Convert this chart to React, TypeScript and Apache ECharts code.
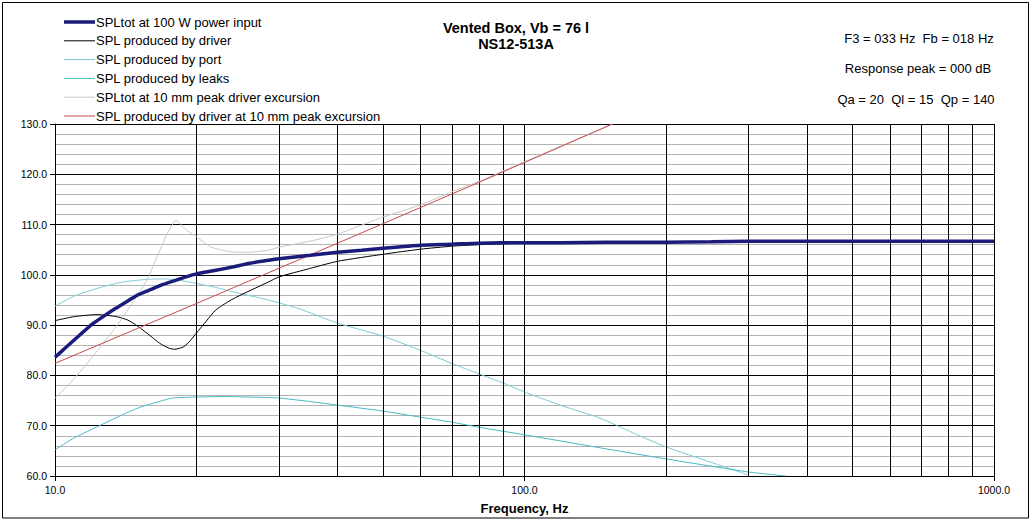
import React, { useEffect, useRef } from "react";
import * as echarts from "echarts";

const FONT = "Liberation Sans, Arial, Helvetica, sans-serif";

const NAMES = [
  "SPLtot at 100 W power input",
  "SPL produced by driver",
  "SPL produced by port",
  "SPL produced by leaks",
  "SPLtot at 10 mm peak driver excursion",
  "SPL produced by driver at 10 mm peak excursion",
];

// Y ticks (dB) and X ticks (Hz)
const Y_MIN = 60;
const Y_MAX = 130;
const Y_STEP = 10;
const X_MIN = 10;
const X_MAX = 1000;
const X_GRID = [20, 30, 40, 50, 60, 70, 80, 90, 200, 300, 400, 500, 600, 700, 800, 900];

// SPLtot at 100 W power input
const TOT_F = [10, 10.5, 11, 11.5, 12, 12.8, 13.5, 14, 15, 16, 17, 18.2, 19, 20, 22, 24, 26, 28.5, 30, 35, 40, 45, 50, 60, 70, 80, 100, 120, 150, 200, 250, 300, 400, 500, 700, 1000];
const TOT_DB = [83.6, 85.4, 87.1, 88.7, 90.2, 92.0, 93.4, 94.3, 96.0, 97.1, 98.1, 99.0, 99.6, 100.2, 100.9, 101.6, 102.3, 102.9, 103.2, 103.9, 104.5, 104.9, 105.3, 105.9, 106.1, 106.3, 106.4, 106.4, 106.5, 106.5, 106.6, 106.7, 106.7, 106.7, 106.7, 106.7];

// SPL produced by driver
const DRV_F = [10, 11, 12.3, 13.5, 14.3, 15, 16, 16.7, 17.5, 18, 18.8, 19.4, 20, 21, 22, 23.5, 25, 28.5, 30, 35, 40, 50, 60, 70, 80, 100, 150, 300, 1000];
const DRV_DB = [90.9, 91.7, 92.1, 91.7, 91.0, 89.8, 87.8, 86.4, 85.4, 85.2, 85.7, 86.9, 88.4, 90.8, 93.0, 94.8, 96.1, 98.6, 99.6, 101.3, 102.7, 104.1, 105.1, 105.7, 106.0, 106.3, 106.5, 106.6, 106.7];

// SPL produced by port
const PORT_F = [10, 11, 12.5, 14, 15.7, 17, 18.2, 20, 22, 24, 28.5, 33, 40, 50, 60, 70, 80, 90, 100, 120, 145, 170, 200, 250, 300];
const PORT_DB = [93.8, 95.8, 97.5, 98.6, 99.1, 99.2, 99.0, 98.3, 97.5, 96.6, 95.0, 93.3, 90.4, 87.8, 85.0, 82.4, 80.3, 78.5, 76.7, 74.0, 71.5, 68.6, 65.8, 62.7, 60.2];

// SPL produced by leaks
const LEAK_F = [10, 11, 12.5, 14, 15.2, 16.5, 17.8, 20, 23, 26, 30, 35, 40, 50, 60, 70, 80, 100, 145, 200, 300, 360];
const LEAK_DB = [65.2, 67.6, 70.1, 72.3, 73.7, 74.7, 75.5, 75.7, 75.8, 75.7, 75.5, 74.8, 74.1, 72.9, 71.7, 70.7, 69.7, 68.2, 65.6, 63.4, 60.8, 60.0];

// SPLtot at 10 mm peak driver excursion
const EXC_F = [10, 10.7, 11.4, 12.4, 13.5, 14.6, 15.7, 16.5, 17.3, 18.1, 19, 20, 21.4, 22.5, 24, 26, 28.5, 30, 35, 40, 50, 60, 70, 80, 100, 125, 154];
const EXC_DB = [75.5, 78.2, 81.1, 85.3, 89.7, 94.3, 99.0, 103.6, 108.0, 110.9, 109.0, 107.6, 105.6, 105.0, 104.5, 104.5, 104.9, 105.5, 106.7, 108.1, 111.5, 113.9, 116.5, 118.6, 122.5, 126.4, 130.0];

// SPL produced by driver at 10 mm peak excursion
const RED_F = [10, 20, 40, 80, 154];
const RED_DB = [82.4, 94.3, 106.3, 118.4, 130.0];

const pairs = (f: number[], v: number[]) => f.map((x, i) => [x, v[i]]);

const COLORS = ["#1b1b7c", "#000000", "#7ccbd3", "#45b9c2", "#c8c8c8", "#c84a4a"];
const WIDTHS = [3.5, 1, 1, 1, 1, 1];
const SMOOTH = [0.2, 0.2, 0.2, 0.2, 0.15, 0];
const DATA = [
  pairs(TOT_F, TOT_DB),
  pairs(DRV_F, DRV_DB),
  pairs(PORT_F, PORT_DB),
  pairs(LEAK_F, LEAK_DB),
  pairs(EXC_F, EXC_DB),
  pairs(RED_F, RED_DB),
];
const ZS = [10, 5, 4, 4, 5, 6];

export default function App() {
  const ref = useRef<HTMLDivElement>(null);
  useEffect(() => {
    document.body.style.margin = "0";
    const chart = echarts.init(ref.current!, null, { renderer: "svg" });
    const series: any[] = NAMES.map((name, i) => ({
      name,
      type: "line",
      data: DATA[i],
      symbol: "none",
      showSymbol: false,
      smooth: SMOOTH[i] > 0 ? SMOOTH[i] : false,
      z: ZS[i],
      silent: true,
      lineStyle: { color: COLORS[i], width: WIDTHS[i] },
      itemStyle: { color: COLORS[i] },
    }));
    series.push({
      name: "grid",
      type: "line",
      data: [[X_MIN, Y_MIN]],
      symbol: "none",
      z: 1,
      silent: true,
      lineStyle: { opacity: 0 },
      markLine: {
        silent: true,
        symbol: ["none", "none"],
        label: { show: false },
        animation: false,
        lineStyle: { color: "#000", width: 1, type: "solid" },
        emphasis: { disabled: true },
        data: X_GRID.map((v) => ({ xAxis: v })),
      },
    });

    const legendGraphics: any[] = [];
    NAMES.forEach((name, i) => {
      const y = 22 + 18.8 * i;
      legendGraphics.push({
        type: "line",
        silent: true,
        shape: { x1: 64, y1: y, x2: 95, y2: y },
        style: { stroke: COLORS[i], lineWidth: WIDTHS[i] },
      });
      legendGraphics.push({
        type: "text",
        silent: true,
        x: 96,
        y,
        style: { text: name, fontSize: 13, fontFamily: FONT, fill: "#000", align: "left", verticalAlign: "middle" },
      });
    });

    chart.setOption({
      animation: false,
      backgroundColor: "#fff",
      textStyle: { fontFamily: FONT },
      grid: { left: 55, right: 39, top: 124, bottom: 44, containLabel: false },
      xAxis: {
        type: "log",
        logBase: 10,
        min: X_MIN,
        max: X_MAX,
        name: "Frequency, Hz",
        nameLocation: "middle",
        nameGap: 26,
        nameTextStyle: { fontSize: 13, fontWeight: "bold", color: "#000", fontFamily: FONT },
        axisLine: { show: true, lineStyle: { color: "#000", width: 1 } },
        axisTick: { show: true, length: 5, lineStyle: { color: "#000" } },
        axisLabel: {
          fontSize: 10.5,
          color: "#000",
          margin: 8,
          fontFamily: FONT,
          formatter: (v: number) => v.toFixed(1),
        },
        splitLine: { show: true, lineStyle: { color: "#000", width: 1 } },
        minorTick: { show: false },
        minorSplitLine: { show: false },
      },
      yAxis: {
        type: "value",
        min: Y_MIN,
        max: Y_MAX,
        interval: Y_STEP,
        axisLine: { show: true, lineStyle: { color: "#000", width: 1 } },
        axisTick: { show: true, length: 5, lineStyle: { color: "#000" } },
        axisLabel: {
          fontSize: 10.5,
          color: "#000",
          margin: 8,
          fontFamily: FONT,
          formatter: (v: number) => v.toFixed(1),
        },
        splitLine: { show: true, lineStyle: { color: "#000", width: 1 } },
        minorTick: { show: false, splitNumber: 5 },
        minorSplitLine: { show: true, lineStyle: { color: "#b4b4b4", width: 1 } },
      },
      graphic: [
        {
          type: "rect",
          silent: true,
          z: -10,
          shape: { x: 2.5, y: 2.5, width: 1026, height: 515.5 },
          style: { fill: "none", stroke: "#000", lineWidth: 1 },
        },
        ...legendGraphics,
        {
          type: "text",
          x: 516,
          y: 28,
          style: { text: "Vented Box, Vb = 76 l", fontSize: 14.5, fontWeight: "bold", fontFamily: FONT, fill: "#000", align: "center", verticalAlign: "middle" },
        },
        {
          type: "text",
          x: 516,
          y: 44,
          style: { text: "NS12-513A", fontSize: 14.5, fontWeight: "bold", fontFamily: FONT, fill: "#000", align: "center", verticalAlign: "middle" },
        },
        {
          type: "text",
          x: 919,
          y: 38,
          style: { text: "F3 = 033 Hz  Fb = 018 Hz", fontSize: 13, fontFamily: FONT, fill: "#000", align: "center", verticalAlign: "middle" },
        },
        {
          type: "text",
          x: 918,
          y: 68,
          style: { text: "Response peak = 000 dB", fontSize: 13, fontFamily: FONT, fill: "#000", align: "center", verticalAlign: "middle" },
        },
        {
          type: "text",
          x: 916,
          y: 99,
          style: { text: "Qa = 20  Ql = 15  Qp = 140", fontSize: 13, fontFamily: FONT, fill: "#000", align: "center", verticalAlign: "middle" },
        },
      ],
      series,
    });
    return () => chart.dispose();
  }, []);
  return <div ref={ref} style={{ width: 1033, height: 520 }} />;
}
